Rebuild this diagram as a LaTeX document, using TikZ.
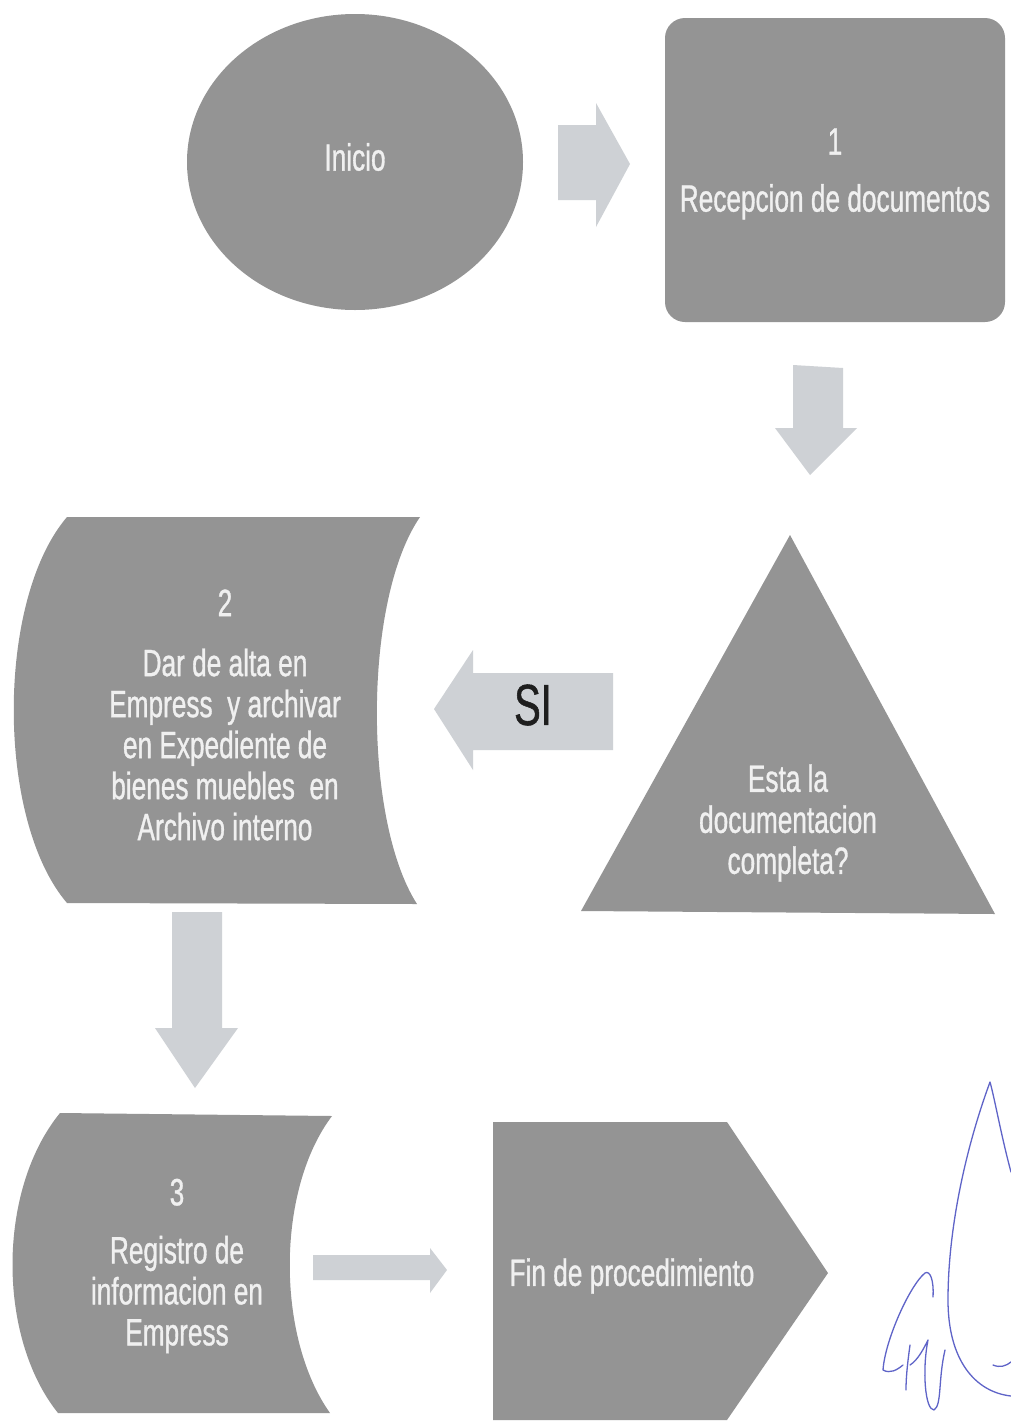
\documentclass[tikz,border=0pt]{standalone}
\usepackage{fontspec}
\setmainfont[FakeStretch=0.69]{Liberation Sans}
\newfontfamily\lblfont[FakeStretch=0.69,FakeBold=0.9]{Liberation Sans}
\usetikzlibrary{shapes.geometric}
\definecolor{shapegray}{RGB}{148,148,148}
\definecolor{arrowgray}{RGB}{206,209,213}
\definecolor{txtwhite}{RGB}{240,240,240}
\definecolor{inkblue}{RGB}{95,100,200}
\definecolor{sitext}{RGB}{30,30,30}
\begin{document}
\begin{tikzpicture}[x=1pt,y=-1pt,
  shapebox/.style={fill=shapegray, draw=none},
  blockarrow/.style={fill=arrowgray, draw=none},
  lbl/.style={text=txtwhite, align=center, inner sep=0pt, font=\lblfont\fontsize{38}{41}\selectfont},
  ink/.style={draw=inkblue, line width=1.3pt, line cap=round, line join=round},
]
\useasboundingbox[fill=white] (0,0) rectangle (1011,1422);

% --- shapes ---
\node (inicio) [ellipse, shapebox, minimum width=336pt, minimum height=296pt, inner sep=0pt] at (355,162) {};
\node (rec) [rectangle, rounded corners=20pt, shapebox, minimum width=340pt, minimum height=304pt] at (835,170) {};

% decision triangle
\fill[shapegray] (790,535) -- (995,914) -- (581,911) -- cycle;
\coordinate (tri) at (788,760);

% stored-data shape 2
\fill[shapegray] (67,517) -- (420,517) .. controls (363,600) and (363,820) .. (417,904)
  -- (67,903) .. controls (-4,820) and (-4,600) .. (67,517) -- cycle;
\coordinate (s2) at (215,710);

% stored-data shape 3
\fill[shapegray] (60,1113) -- (332,1116) .. controls (276,1190) and (276,1337) .. (330,1413)
  -- (58,1413) .. controls (-3,1337) and (-3,1190) .. (60,1113) -- cycle;
\coordinate (s3) at (175,1262);

% end pentagon
\fill[shapegray] (493,1122) -- (727,1122) -- (828,1273) -- (727,1420) -- (493,1420) -- cycle;
\coordinate (fin) at (632,1272);

% --- block arrows ---
\fill[blockarrow] (558,125) -- (596,125) -- (596,103) -- (630,164) -- (596,227) -- (596,200) -- (558,200) -- cycle;
\fill[blockarrow] (793,365) -- (843,368) -- (843,428) -- (857,428) -- (810,475) -- (775,428) -- (793,428) -- cycle;
\fill[blockarrow] (613,673) -- (473,673) -- (473,650) -- (434,709) -- (473,770) -- (473,750) -- (613,750) -- cycle;
\fill[blockarrow] (172,912) -- (222,912) -- (222,1028) -- (238,1028) -- (195,1088) -- (155,1028) -- (172,1028) -- cycle;
\fill[blockarrow] (313,1255) -- (430,1255) -- (430,1248) -- (447,1270) -- (430,1293) -- (430,1280) -- (313,1280) -- cycle;

% --- labels ---
\node (inicioT) [lbl] at (355,157) {Inicio};
\node (recT) [lbl] at (835,174) {1\\[16pt]Recepcion de documentos};
\node (triT) [lbl] at (788,823) {Esta la\\documentacion\\completa?};
\node (s2T) [lbl] at (225,715) {2\\[19pt]Dar de alta en\\Empress\ \ y archivar\\en Expediente de\\bienes muebles\ \ en\\Archivo interno};
\node (s3T) [lbl] at (177,1266) {3\\[17pt]Registro de\\informacion en\\Empress};
\node (finT) [lbl] at (632,1276) {Fin de procedimiento};
\node (si) [inner sep=0pt, text=sitext, font=\lblfont\fontsize{58}{60}\selectfont] at (533,705) {SI};

% --- signature ---
\draw[ink] (1011,1172) .. controls (1001,1135) and (995,1100) .. (990,1082)
  .. controls (965,1150) and (948,1230) .. (948,1300)
  .. controls (948,1360) and (975,1392) .. (1011,1396);
\draw[ink] (993,1365) .. controls (1000,1368) and (1006,1366) .. (1011,1362);
\draw[ink] (933,1297) .. controls (934,1280) and (930,1270) .. (925,1273)
  .. controls (910,1285) and (885,1340) .. (883,1370)
  .. controls (890,1374) and (897,1370) .. (903,1365);
\draw[ink] (910,1345) .. controls (908,1360) and (906,1375) .. (906,1390);
\draw[ink] (910,1365) .. controls (918,1360) and (924,1348) .. (928,1340)
  .. controls (922,1370) and (925,1410) .. (934,1410)
  .. controls (942,1405) and (938,1380) .. (945,1350);
\end{tikzpicture}
\end{document}
